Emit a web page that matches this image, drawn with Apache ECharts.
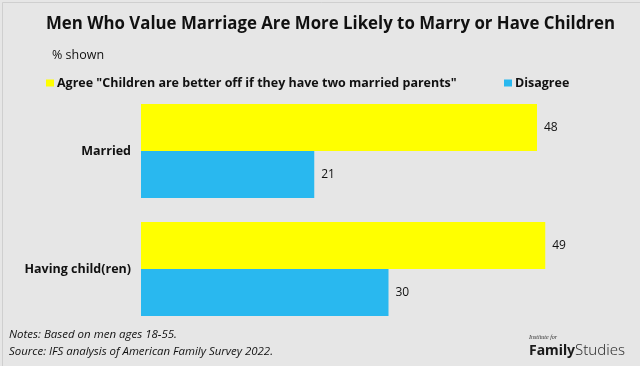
<!DOCTYPE html>
<html><head><meta charset="utf-8">
<script src="https://cdn.jsdelivr.net/npm/echarts@6/dist/echarts.min.js"></script>
<style>html,body{margin:0;padding:0;background:#e6e6e6}#c{width:640px;height:366px}</style>
</head><body><div id="c"></div>
<script>
const categories = ["Married", "Having child(ren)"];
const agreeValues = [48, 49];
const disagreeValues = [21, 30];
const seriesNames = ['Agree "Children are better off if they have two married parents"', "Disagree"];
const titleText = "Men Who Value Marriage Are More Likely to Marry or Have Children";
const subtitleText = "% shown";
const notesText = "Notes: Based on men ages 18-55.";
const sourceText = "Source: IFS analysis of American Family Survey 2022.";

const F = "'Open Sans', 'Noto Sans', sans-serif";
const ctx = document.createElement("canvas").getContext("2d");
function fitScale(text, font, target) { ctx.font = font; return target / ctx.measureText(text).width; }
function fitSize(text, weight, size, target) { ctx.font = weight + " " + size + "px " + F; return size * target / ctx.measureText(text).width; }

const legendSize = fitSize(seriesNames[0], "bold", 12.5, 400);
const titleFont = "bold 17px " + F;
const noteFont = "italic 11.5px " + F;

const chart = echarts.init(document.getElementById("c"), null, {renderer: "canvas"});
chart.setOption({
  backgroundColor: "#e6e6e6",
  animation: false,
  legend: [
    {data: [seriesNames[0]], left: 46, top: 77, padding: 0, icon: "rect", itemWidth: 8, itemHeight: 7,
     textStyle: {fontFamily: F, fontSize: legendSize, fontWeight: "bold", color: "#111", padding: [0,0,0,-2]}},
    {data: [seriesNames[1]], left: 504, top: 77, padding: 0, icon: "rect", itemWidth: 8, itemHeight: 7,
     textStyle: {fontFamily: F, fontSize: legendSize, fontWeight: "bold", color: "#111", padding: [0,0,0,-2]}}
  ],
  grid: {left: 141, top: 92, width: 462, height: 236},
  xAxis: {type: "value", min: 0, max: 56, show: false},
  yAxis: {
    type: "category", data: categories, inverse: true,
    axisLine: {show: false}, axisTick: {show: false},
    axisLabel: {fontFamily: F, fontSize: 12.5, fontWeight: "bold", color: "#111", margin: 10}
  },
  series: [
    {name: seriesNames[0], type: "bar", data: agreeValues, barWidth: 47, barGap: "0%",
     itemStyle: {color: "#ffff00"},
     label: {show: true, position: "right", distance: 7, fontFamily: F, fontSize: 12, color: "#111"}},
    {name: seriesNames[1], type: "bar", data: disagreeValues, barWidth: 47, barGap: "0%",
     itemStyle: {color: "#29b8ef"},
     label: {show: true, position: "right", distance: 7, fontFamily: F, fontSize: 12, color: "#111"}}
  ],
  graphic: [
    {type: "text", x: 46, y: 24, scaleX: fitScale(titleText, titleFont, 569), style: {text: titleText, font: titleFont, fill: "#111", textVerticalAlign: "middle"}},
    {type: "text", x: 52, y: 55, style: {text: subtitleText, font: "12.5px " + F, fill: "#111", textVerticalAlign: "middle"}},
    {type: "text", x: 9, y: 335, scaleX: fitScale(notesText, noteFont, 168), style: {text: notesText, font: noteFont, fill: "#111", textVerticalAlign: "middle"}},
    {type: "text", x: 9, y: 352, scaleX: fitScale(sourceText, noteFont, 264), style: {text: sourceText, font: noteFont, fill: "#111", textVerticalAlign: "middle"}},
    {type: "text", x: 529, y: 337, style: {text: "Institute for", font: "italic 6px serif", fill: "#333", textVerticalAlign: "middle"}},
    {type: "text", x: 529, y: 351, style: {text: "Family", font: "bold 14px 'Noto Sans', sans-serif", fill: "#1a1a1a", textVerticalAlign: "middle"}},
    {type: "text", x: 575, y: 351, style: {text: "Studies", font: "300 15px 'Noto Sans', sans-serif", fill: "#333", textVerticalAlign: "middle"}},
    {type: "rect", left: 0, top: 0, shape: {width: 639, height: 365}, style: {fill: "none", stroke: "#cfcfcf", lineWidth: 1}}
  ]
});
</script></body></html>
